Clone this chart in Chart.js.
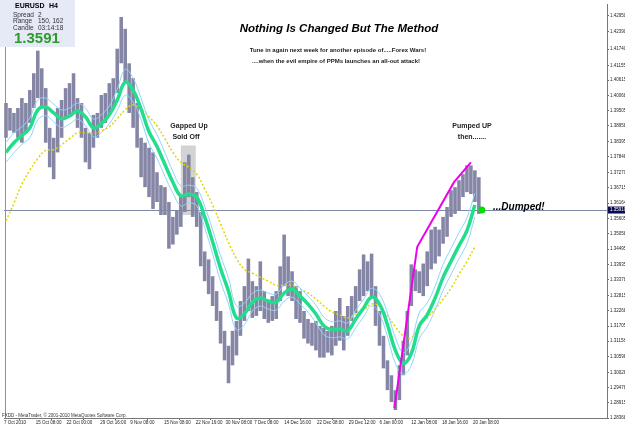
<!DOCTYPE html>
<html>
<head>
<meta charset="utf-8">
<script src="https://cdn.jsdelivr.net/npm/chart.js@4"></script>
<style>
  body { margin: 0; background: #fff; }
  canvas { display: block; }
</style>
</head>
<body>
<canvas id="fxChart" width="625" height="429"></canvas>
<script>
// EURUSD H4 - high/low of each 4px column (left to right)
const highs = [1.3979,1.3961,1.3943,1.3961,1.3997,1.3979,1.4026,1.4087,1.4169,1.4105,
  1.4033,1.3889,1.3853,1.3961,1.3990,1.4033,1.4051,1.4087,1.3997,1.3979,
  1.3889,1.3871,1.3936,1.3943,1.4008,1.4015,1.4051,1.4069,1.4176,1.4291,
  1.4248,1.4123,1.4069,1.3979,1.3853,1.3835,1.3817,1.3800,1.3728,1.3681,
  1.3674,1.3620,1.3566,1.3591,1.3638,1.3764,1.3792,1.3710,1.3656,1.3584,
  1.3441,1.3412,1.3351,1.3297,1.3225,1.3153,1.3099,1.3153,1.3189,1.3261,
  1.3315,1.3415,1.3333,1.3315,1.3405,1.3297,1.3261,1.3279,1.3297,1.3387,
  1.3502,1.3423,1.3369,1.3315,1.3297,1.3225,1.3196,1.3182,1.3189,1.3171,
  1.3164,1.3153,1.3171,1.3225,1.3272,1.3207,1.3243,1.3279,1.3315,1.3376,
  1.3430,1.3405,1.3433,1.3315,1.3225,1.3135,1.3046,1.2992,1.2938,1.3028,
  1.3117,1.3225,1.3394,1.3376,1.3369,1.3397,1.3441,1.3520,1.3530,1.3520,
  1.3566,1.3602,1.3663,1.3674,1.3699,1.3721,1.3753,1.3753,1.3735,1.3710];
const lows = [1.3853,1.3879,1.3871,1.3853,1.3835,1.3871,1.3907,1.3961,1.3997,1.3961,
  1.3835,1.3746,1.3703,1.3800,1.3853,1.3925,1.3936,1.3943,1.3889,1.3853,
  1.3764,1.3739,1.3817,1.3853,1.3889,1.3907,1.3936,1.3961,1.4015,1.4123,
  1.4051,1.3943,1.3889,1.3817,1.3710,1.3674,1.3638,1.3595,1.3620,1.3573,
  1.3573,1.3451,1.3466,1.3502,1.3530,1.3584,1.3638,1.3566,1.3530,1.3387,
  1.3333,1.3286,1.3243,1.3189,1.3107,1.3046,1.2963,1.3028,1.3064,1.3135,
  1.3189,1.3225,1.3200,1.3207,1.3225,1.3196,1.3182,1.3189,1.3196,1.3261,
  1.3315,1.3279,1.3261,1.3196,1.3182,1.3125,1.3107,1.3099,1.3082,1.3056,
  1.3056,1.3074,1.3064,1.3099,1.3117,1.3082,1.3135,1.3189,1.3218,1.3261,
  1.3279,1.3297,1.3279,1.3171,1.3099,1.3017,1.2938,1.2895,1.2866,1.2902,
  1.2992,1.3064,1.3243,1.3297,1.3290,1.3279,1.3315,1.3376,1.3397,1.3423,
  1.3469,1.3494,1.3566,1.3577,1.3591,1.3638,1.3656,1.3649,1.3620,1.3577];

// indicator lines, one value every 2 columns
const maFast = [1.3800,1.3835,1.3861,1.3889,1.3954,1.3965,1.3943,1.3922,1.3932,1.3950,
  1.3929,1.3889,1.3904,1.3936,1.3990,1.4054,1.4026,1.3957,1.3875,1.3821,
  1.3756,1.3692,1.3642,1.3649,1.3638,1.3566,1.3476,1.3379,1.3297,1.3200,
  1.3214,1.3257,1.3272,1.3261,1.3257,1.3290,1.3304,1.3279,1.3250,1.3214,
  1.3171,1.3157,1.3160,1.3153,1.3196,1.3236,1.3275,1.3250,1.3175,1.3082,
  1.3035,1.3071,1.3171,1.3211,1.3272,1.3347,1.3405,1.3462,1.3516,1.3609];
const bandUpper = [1.3836,1.3871,1.3893,1.3925,1.3990,1.3997,1.3975,1.3954,1.3961,1.3979,
  1.3961,1.3921,1.3936,1.3968,1.4029,1.4101,1.4069,1.3996,1.3918,1.3864,
  1.3799,1.3731,1.3678,1.3681,1.3670,1.3605,1.3519,1.3426,1.3344,1.3243,
  1.3253,1.3289,1.3301,1.3290,1.3286,1.3319,1.3333,1.3308,1.3279,1.3246,
  1.3203,1.3186,1.3189,1.3182,1.3228,1.3268,1.3307,1.3286,1.3218,1.3129,
  1.3074,1.3114,1.3218,1.3254,1.3315,1.3394,1.3452,1.3509,1.3563,1.3652];
const bandLower = [1.3764,1.3799,1.3829,1.3853,1.3918,1.3933,1.3911,1.3890,1.3903,1.3921,
  1.3897,1.3857,1.3872,1.3904,1.3951,1.4007,1.3983,1.3918,1.3832,1.3778,
  1.3713,1.3653,1.3606,1.3617,1.3606,1.3527,1.3433,1.3332,1.3250,1.3157,
  1.3175,1.3225,1.3243,1.3232,1.3228,1.3261,1.3275,1.3250,1.3221,1.3182,
  1.3139,1.3128,1.3131,1.3124,1.3164,1.3204,1.3243,1.3214,1.3132,1.3035,
  1.2996,1.3028,1.3124,1.3168,1.3229,1.3300,1.3358,1.3415,1.3469,1.3566];
const maSlow = [1.3552,1.3616,1.3685,1.3735,1.3778,1.3807,1.3810,1.3828,1.3850,1.3871,
  1.3871,1.3868,1.3879,1.3893,1.3922,1.3954,1.3972,1.3957,1.3929,1.3896,
  1.3850,1.3800,1.3764,1.3746,1.3721,1.3667,1.3609,1.3541,1.3473,1.3415,
  1.3376,1.3362,1.3347,1.3333,1.3318,1.3318,1.3318,1.3304,1.3290,1.3268,
  1.3243,1.3222,1.3211,1.3200,1.3214,1.3229,1.3250,1.3243,1.3207,1.3168,
  1.3135,1.3128,1.3168,1.3200,1.3232,1.3268,1.3308,1.3358,1.3405,1.3458];

// hand drawn trend line
const trendCols = [97.75, 103.5, 112.75, 117];
const trendPrices = [1.2873, 1.3458, 1.3692, 1.3764];

const currentPrice = 1.3591;
const gapBoxCols = [44, 47.75];
const gapBoxPrices = [1.3573, 1.3825];

const yTickValues = [1.42950,1.42390,1.41740,1.41155,1.40615,1.40068,1.39505,1.38958,1.38395,
  1.37848,1.37270,1.36715,1.36164,1.35605,1.35058,1.34495,1.33935,1.33378,1.32815,1.32268,
  1.31705,1.31158,1.30598,1.30028,1.29478,1.28915,1.28368];
const xTickCols = [-0.5, 7.5, 15.25, 23.75, 31.25, 39.75, 47.75, 55.25, 62.5, 70, 78.25, 86.25, 94, 102, 109.75, 117.5];
const xTickLabels = ['7 Oct 2010','15 Oct 08:00','22 Oct 00:00','29 Oct 16:00','9 Nov 08:00','15 Nov 08:00',
  '22 Nov 16:00','30 Nov 08:00','7 Dec 08:00','14 Dec 16:00','22 Dec 08:00','29 Dec 12:00',
  '6 Jan 00:00','12 Jan 08:00','18 Jan 16:00','20 Jan 08:00'];

const FONT = '"Liberation Sans", Arial, sans-serif';

const barData = highs.map((h, i) => ({ x: i, y: [lows[i], h] }));
const lineData = arr => arr.map((v, k) => ({ x: k * 2, y: v }));

// vẽ thêm chữ, hộp, đường giá hiện tại
const overlay = {
  id: 'overlay',
  beforeDatasetsDraw(chart) {
    const { ctx, chartArea: a, scales: { x, y } } = chart;
    ctx.save();
    // gapped-up box
    const bx0 = x.getPixelForValue(gapBoxCols[0]), bx1 = x.getPixelForValue(gapBoxCols[1]);
    const by0 = y.getPixelForValue(gapBoxPrices[1]), by1 = y.getPixelForValue(gapBoxPrices[0]);
    ctx.fillStyle = 'rgba(200,200,200,0.8)';
    ctx.fillRect(bx0, by0, bx1 - bx0, by1 - by0);
    // current price line
    const py = Math.round(y.getPixelForValue(currentPrice)) + 0.5;
    ctx.strokeStyle = '#7d88aa';
    ctx.lineWidth = 1;
    ctx.beginPath();
    ctx.moveTo(a.left, py);
    ctx.lineTo(a.right, py);
    ctx.stroke();
    // left frame
    ctx.strokeStyle = '#9090a0';
    ctx.beginPath();
    ctx.moveTo(a.left + 1.5, 47);
    ctx.lineTo(a.left + 1.5, a.bottom);
    ctx.stroke();
    ctx.restore();
  },
  afterDraw(chart) {
    const { ctx, chartArea: a, scales: { y } } = chart;
    ctx.save();
    // info box
    ctx.fillStyle = '#e6e9f6';
    ctx.fillRect(0, 0, 75, 47);
    ctx.fillStyle = '#000';
    ctx.textBaseline = 'middle';
    ctx.textAlign = 'left';
    ctx.font = 'bold 7px ' + FONT;
    ctx.fillText('EURUSD', 15, 6);
    ctx.fillText('H4', 49, 6);
    ctx.fillStyle = '#333';
    ctx.font = '6.5px ' + FONT;
    ctx.fillText('Spread', 13, 15);
    ctx.fillText('2', 38, 15);
    ctx.fillText('Range', 13, 21.5);
    ctx.fillText('150, 162', 38, 21.5);
    ctx.fillText('Candle', 13, 28);
    ctx.fillText('03:14:18', 38, 28);
    ctx.fillStyle = '#2e9a2e';
    ctx.font = 'bold 15px ' + FONT;
    ctx.fillText('1.3591', 14, 39);

    // title and notes
    ctx.textAlign = 'center';
    ctx.fillStyle = '#000';
    ctx.font = 'italic bold 11.5px ' + FONT;
    ctx.fillText('Nothing Is Changed But The Method', 339, 29);
    ctx.font = 'bold 6px ' + FONT;
    ctx.fillStyle = '#222';
    ctx.fillText('Tune in again next week for another episode of.....Forex Wars!', 338, 50);
    ctx.fillText('....when the evil empire of PPMs launches an all-out attack!', 336, 61);
    ctx.font = 'bold 7px ' + FONT;
    ctx.fillText('Gapped Up', 189, 126);
    ctx.fillText('Sold Off', 186, 137);
    ctx.fillText('Pumped UP', 472, 126);
    ctx.fillText('then.......', 472, 137);
    ctx.textAlign = 'left';
    ctx.fillStyle = '#000';
    ctx.font = 'italic bold 10px ' + FONT;
    ctx.fillText('...Dumped!', 493, 207);

    // footer
    ctx.fillStyle = '#333';
    ctx.font = '4.5px ' + FONT;
    ctx.fillText('FXDD - MetaTrader, \u00a9 2001-2010 MetaQuotes Software Corp.', 2, a.bottom - 2);

    // current price tag on the axis
    const py = y.getPixelForValue(currentPrice);
    ctx.fillStyle = '#0a0a50';
    ctx.fillRect(a.right + 1, py - 3.5, 625 - a.right - 1, 7);
    ctx.fillStyle = '#fff';
    ctx.font = '4.5px ' + FONT;
    ctx.fillText(currentPrice.toFixed(5), a.right + 3, py);
    ctx.restore();
  }
};

const ctx = document.getElementById('fxChart').getContext('2d');
new Chart(ctx, {
  type: 'bar',
  data: {
    datasets: [
      {
        type: 'line', data: [{ x: 119.75, y: currentPrice }],
        pointRadius: 3.5, pointBackgroundColor: '#00e000', pointBorderWidth: 0,
        showLine: false, order: 1
      },
      {
        type: 'line', data: trendCols.map((c, i) => ({ x: c, y: trendPrices[i] })),
        borderColor: '#ee00ee', borderWidth: 2, pointRadius: 0, tension: 0, order: 2
      },
      {
        type: 'line', data: lineData(maFast),
        borderColor: '#22dd8c', borderWidth: 3.5, pointRadius: 0, tension: 0.4, order: 3
      },
      {
        type: 'line', data: lineData(bandUpper),
        borderColor: '#8fd4fb', borderWidth: 1, pointRadius: 0, tension: 0.4, order: 4
      },
      {
        type: 'line', data: lineData(bandLower),
        borderColor: '#8fd4fb', borderWidth: 1, pointRadius: 0, tension: 0.4, order: 4
      },
      {
        type: 'line', data: lineData(maSlow),
        borderColor: '#e0d600', borderWidth: 1.5, borderDash: [2, 2],
        pointRadius: 0, tension: 0.4, order: 5
      },
      {
        type: 'bar', data: barData,
        backgroundColor: '#8585a6', borderWidth: 0,
        barPercentage: 1, categoryPercentage: 0.9, order: 6
      }
    ]
  },
  options: {
    responsive: false,
    animation: false,
    layout: { padding: 0 },
    plugins: { legend: { display: false }, tooltip: { enabled: false } },
    scales: {
      x: {
        type: 'linear', min: -0.5, max: 151.25, offset: false,
        grid: { display: true, drawOnChartArea: false, tickLength: 2, color: '#666' },
        border: { color: '#777', dash: [1, 1] },
        afterBuildTicks: s => { s.ticks = xTickCols.map(v => ({ value: v })); },
        afterFit: s => { s.height = 11; },
        ticks: {
          autoSkip: false, maxRotation: 0, align: 'start', padding: 0,
          color: '#222', font: { size: 4.5, family: FONT },
          callback: (v, i) => xTickLabels[i]
        }
      },
      y: {
        position: 'right', min: 1.2837, max: 1.4338,
        grid: { display: true, drawOnChartArea: false, tickLength: 2, color: '#666' },
        border: { color: '#777' },
        afterBuildTicks: s => { s.ticks = yTickValues.map(v => ({ value: v })); },
        afterFit: s => { s.width = 18; },
        ticks: {
          padding: 1, color: '#222', font: { size: 4.5, family: FONT },
          callback: v => Number(v).toFixed(5)
        }
      }
    }
  },
  plugins: [overlay]
});
</script>
</body>
</html>
